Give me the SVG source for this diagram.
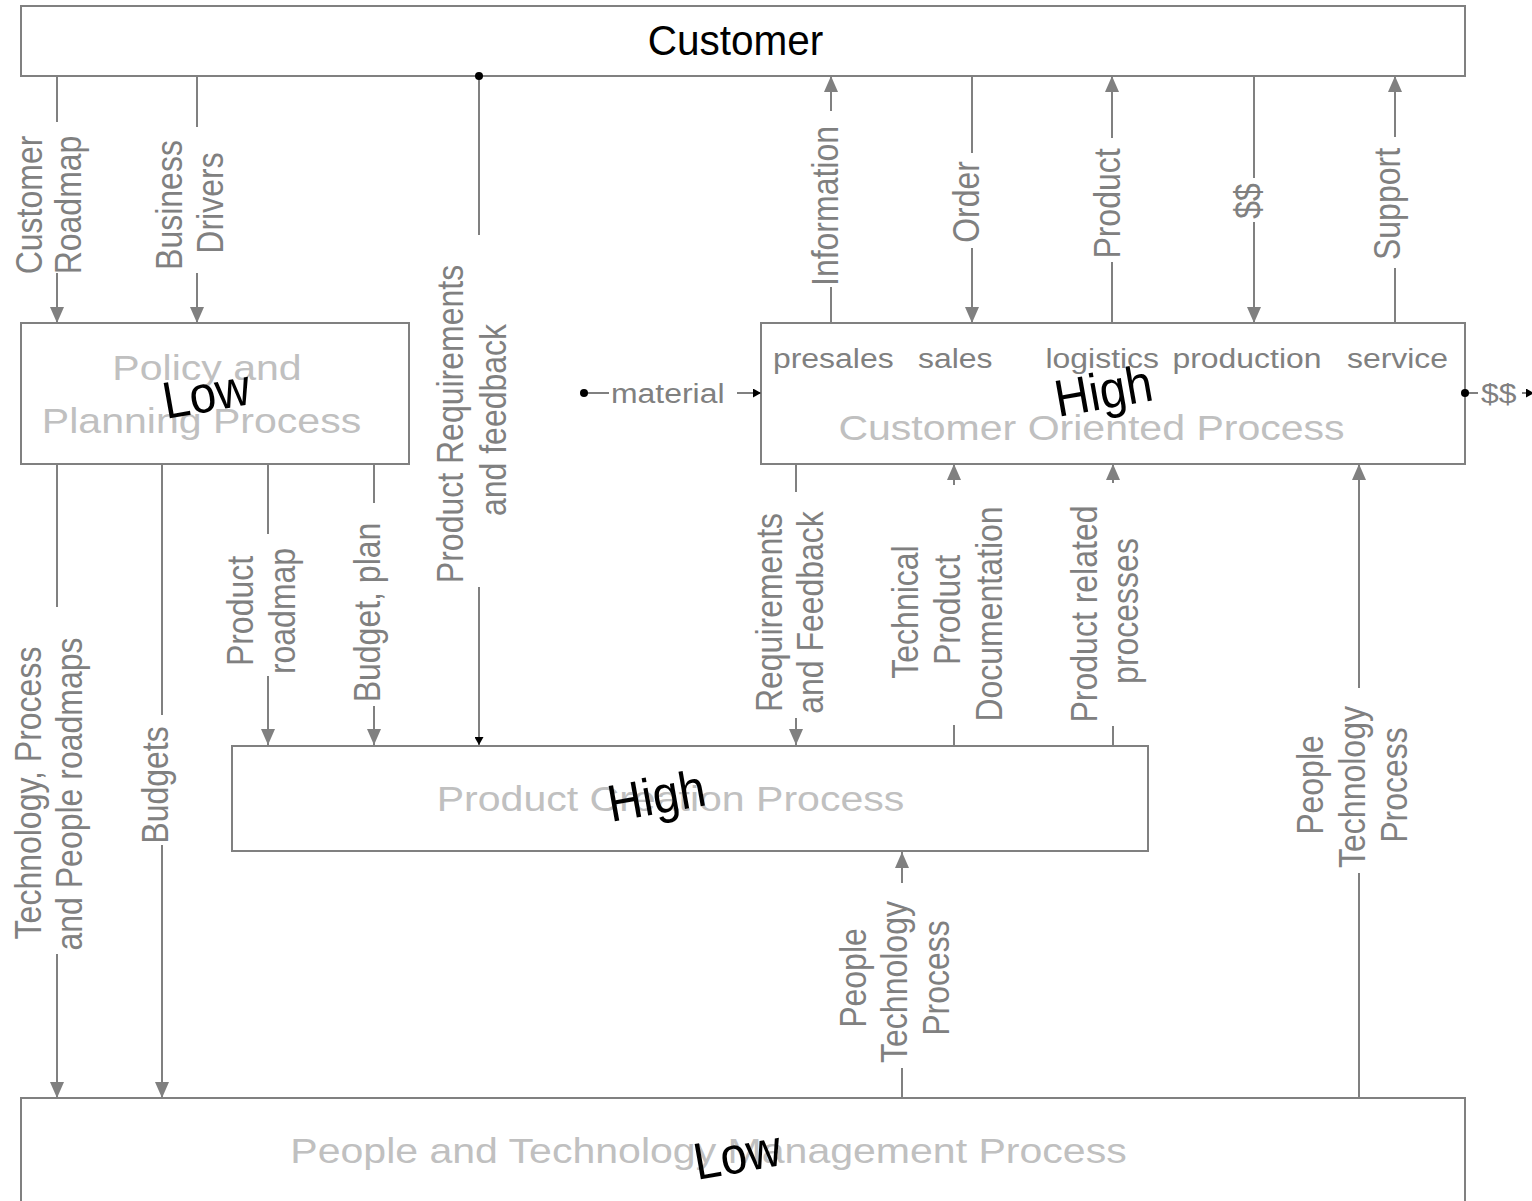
<svg xmlns="http://www.w3.org/2000/svg" width="1532" height="1201" viewBox="0 0 1532 1201">
<style>
.box{fill:#fff;stroke:#808080;stroke-width:2}
.ln{fill:none;stroke:#808080;stroke-width:2}
text{font-family:"Liberation Sans",Arial,Helvetica,sans-serif}
.lbl{font-size:32px;fill:#808080}
.sm{font-size:28px;fill:#808080}
.big{font-size:36px;fill:#c0c0c0}
.blk{font-size:52px;fill:#000}
.dot{fill:#000}
</style>
<defs>
<marker id="arr" viewBox="0 0 16 14" refX="16" refY="7" markerWidth="16" markerHeight="14" markerUnits="userSpaceOnUse" orient="auto"><path d="M0,0 L16,7 L0,14 z" fill="#808080"/></marker>
<marker id="arrs" viewBox="0 0 8 9" refX="8" refY="4.5" markerWidth="8" markerHeight="9" markerUnits="userSpaceOnUse" orient="auto"><path d="M0,0 L8,4.5 L0,9 z" fill="#000"/></marker>
</defs>

<g id="customer">
<rect class="box" x="21" y="6" width="1444" height="70"/>
<text transform="translate(735.5,55) scale(0.965,1)" text-anchor="middle" style="font-size:42px;fill:#000">Customer</text>
</g>

<g id="policy">
<rect class="box" x="21" y="323" width="388" height="141"/>
<text class="big" transform="translate(207,380) scale(1.14,1)" text-anchor="middle">Policy and</text>
<text class="big" transform="translate(201.5,433) scale(1.14,1)" text-anchor="middle">Planning Process</text>
</g>

<g id="customer-oriented">
<rect class="box" x="761" y="323" width="704" height="141"/>
<text class="sm" transform="translate(773,368) scale(1.14,1)">presales</text>
<text class="sm" transform="translate(918,368) scale(1.14,1)">sales</text>
<text class="sm" transform="translate(1045.5,368) scale(1.14,1)">logistics</text>
<text class="sm" transform="translate(1172.5,368) scale(1.14,1)">production</text>
<text class="sm" transform="translate(1347,368) scale(1.14,1)">service</text>
<text class="big" transform="translate(1091.5,440) scale(1.14,1)" text-anchor="middle">Customer Oriented Process</text>
</g>

<g id="product-creation">
<rect class="box" x="232" y="746" width="916" height="105"/>
<text class="big" transform="translate(670.5,811) scale(1.14,1)" text-anchor="middle">Product Creation Process</text>
</g>

<g id="people-tech">
<rect class="box" x="21" y="1098" width="1444" height="130"/>
<text class="big" transform="translate(708.5,1163) scale(1.14,1)" text-anchor="middle">People and Technology Management Process</text>
</g>

<g id="connectors">
<path class="ln" d="M57,76 V122 M57,273 V323" marker-end="url(#arr)"/>
<path class="ln" d="M197,76 V127 M197,273 V323" marker-end="url(#arr)"/>
<path class="ln" d="M479,76 V235 M479,587 V745" marker-end="url(#arrs)"/>
<circle class="dot" cx="479" cy="76" r="4"/>
<path class="ln" d="M831,323 V287 M831,111 V76" marker-end="url(#arr)"/>
<path class="ln" d="M972,76 V153 M972,248 V323" marker-end="url(#arr)"/>
<path class="ln" d="M1112,323 V262 M1112,138 V76" marker-end="url(#arr)"/>
<path class="ln" d="M1254,76 V178 M1254,222 V323" marker-end="url(#arr)"/>
<path class="ln" d="M1395,323 V268 M1395,137 V76" marker-end="url(#arr)"/>
<path class="ln" d="M584,393 H609 M737,393 H761" marker-end="url(#arrs)"/>
<circle class="dot" cx="584" cy="393" r="4"/>
<path class="ln" d="M1465,393 H1478 M1522,393 H1534" marker-end="url(#arrs)"/>
<circle class="dot" cx="1465" cy="393" r="4"/>
<path class="ln" d="M57,464 V607 M57,954 V1098" marker-end="url(#arr)"/>
<path class="ln" d="M162,464 V715 M162,845 V1098" marker-end="url(#arr)"/>
<path class="ln" d="M268,464 V534 M268,676 V745" marker-end="url(#arr)"/>
<path class="ln" d="M374,464 V503 M374,706 V745" marker-end="url(#arr)"/>
<path class="ln" d="M796,464 V492 M796,718 V745" marker-end="url(#arr)"/>
<path class="ln" d="M954,745 V725 M954,485 V464" marker-end="url(#arr)"/>
<path class="ln" d="M1113,745 V726 M1113,483 V464" marker-end="url(#arr)"/>
<path class="ln" d="M902,1098 V1068 M902,883 V852" marker-end="url(#arr)"/>
<path class="ln" d="M1359,1098 V873 M1359,688 V464" marker-end="url(#arr)"/>

<g class="lbl" text-anchor="middle">
<text transform="translate(42,205) scale(1.16,1) rotate(-90)">Customer</text>
<text transform="translate(81,205) scale(1.16,1) rotate(-90)">Roadmap</text>
<text transform="translate(182,205) scale(1.16,1) rotate(-90)">Business</text>
<text transform="translate(223,203) scale(1.16,1) rotate(-90)">Drivers</text>
<text transform="translate(463,424) scale(1.16,1) rotate(-90)">Product Requirements</text>
<text transform="translate(506,420) scale(1.16,1) rotate(-90)">and feedback</text>
<text transform="translate(838,206) scale(1.16,1) rotate(-90)">Information</text>
<text transform="translate(979,202) scale(1.16,1) rotate(-90)">Order</text>
<text transform="translate(1120,203.5) scale(1.16,1) rotate(-90)">Product</text>
<text transform="translate(1261,201) scale(1.16,1) rotate(-90)">$$</text>
<text transform="translate(1400,204) scale(1.16,1) rotate(-90)">Support</text>
<text transform="translate(41,793) scale(1.16,1) rotate(-90)">Technology, Process</text>
<text transform="translate(82,794) scale(1.16,1) rotate(-90)">and People roadmaps</text>
<text transform="translate(168,785) scale(1.16,1) rotate(-90)">Budgets</text>
<text transform="translate(253,611) scale(1.16,1) rotate(-90)">Product</text>
<text transform="translate(295,611) scale(1.16,1) rotate(-90)">roadmap</text>
<text transform="translate(380,612.5) scale(1.16,1) rotate(-90)">Budget, plan</text>
<text transform="translate(782,612.5) scale(1.16,1) rotate(-90)">Requirements</text>
<text transform="translate(823,612.5) scale(1.16,1) rotate(-90)">and Feedback</text>
<text transform="translate(918,612) scale(1.16,1) rotate(-90)">Technical</text>
<text transform="translate(960,610) scale(1.16,1) rotate(-90)">Product</text>
<text transform="translate(1002,614) scale(1.16,1) rotate(-90)">Documentation</text>
<text transform="translate(1097,614) scale(1.16,1) rotate(-90)">Product related</text>
<text transform="translate(1138,611) scale(1.16,1) rotate(-90)">processes</text>
<text transform="translate(866,978) scale(1.16,1) rotate(-90)">People</text>
<text transform="translate(907,982) scale(1.16,1) rotate(-90)">Technology</text>
<text transform="translate(949,978) scale(1.16,1) rotate(-90)">Process</text>
<text transform="translate(1323,785) scale(1.16,1) rotate(-90)">People</text>
<text transform="translate(1365,787) scale(1.16,1) rotate(-90)">Technology</text>
<text transform="translate(1407,785) scale(1.16,1) rotate(-90)">Process</text>
</g>
<text class="sm" transform="translate(611,403) scale(1.14,1)">material</text>
<text class="sm" transform="translate(1481,403) scale(1.14,1)">$$</text>
</g>

<g id="ratings">
<text class="blk" transform="translate(166,419) rotate(-10) scale(0.92,1)">Low</text>
<text class="blk" transform="translate(1058,417) rotate(-10) scale(0.92,1)">High</text>
<text class="blk" transform="translate(611,822) rotate(-10) scale(0.92,1)">High</text>
<text class="blk" transform="translate(697,1180) rotate(-10) scale(0.92,1)">Low</text>
</g>
</svg>
